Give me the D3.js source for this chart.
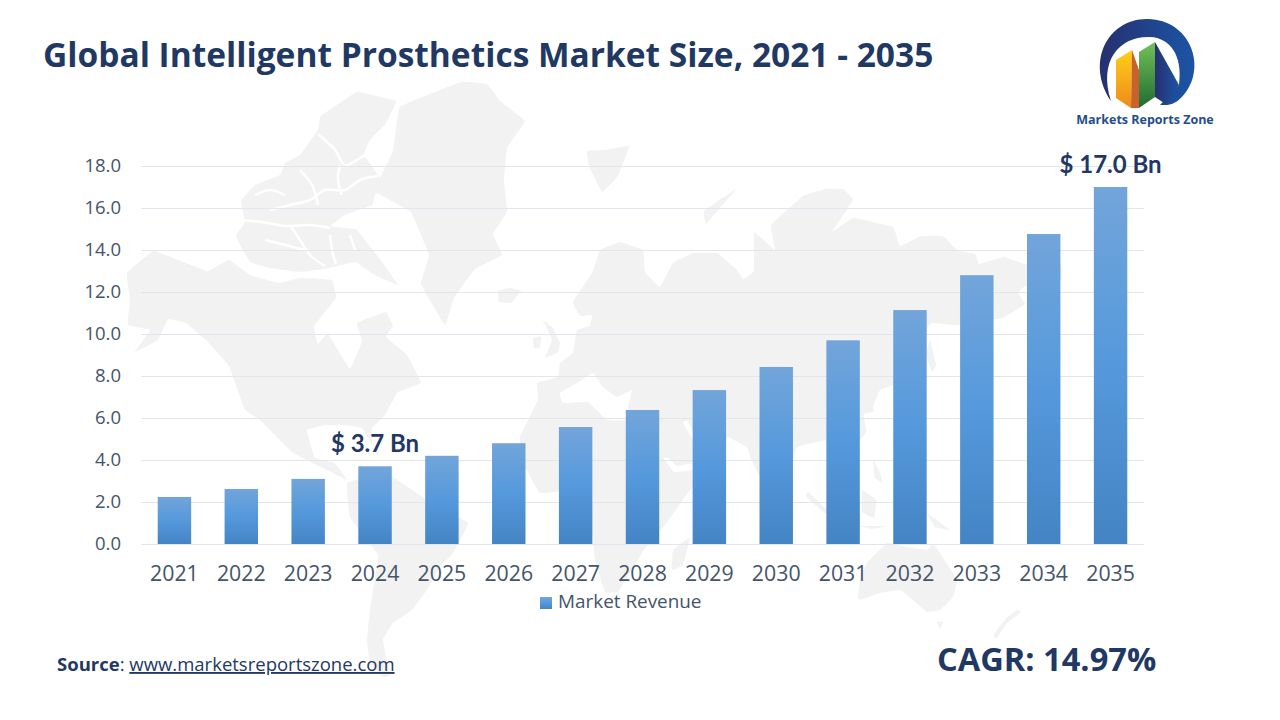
<!DOCTYPE html>
<html>
<head>
<meta charset="utf-8">
<script src="https://cdn.jsdelivr.net/npm/d3@7"></script>
<style>
  html, body { margin: 0; padding: 0; background: #fff; }
  svg { display: block; }
  text { font-family: "Open Sans", sans-serif; }
</style>
</head>
<body>
<svg id="chart" width="1280" height="720"></svg>
<script>
// chart values
var years = ["2021","2022","2023","2024","2025","2026","2027","2028","2029","2030","2031","2032","2033","2034","2035"];
var revenue = [2.24,2.62,3.1,3.7,4.2,4.8,5.57,6.38,7.33,8.43,9.7,11.14,12.8,14.76,17.0];
var yTicks = [0,2,4,6,8,10,12,14,16,18];
var callouts = {"2024": "$ 3.7 Bn", "2035": "$ 17.0 Bn"};

// background world map, page pixels (decoration only)
var land = [
  // north america
  [[127,273],[154,251],[207,271],[229,260],[250,275],[279,283],[300,278],[332,280],[336,298],[314,326],[318,344],[328,334],[350,369],[362,341],[357,323],[386,312],[393,326],[386,337],[407,355],[421,383],[398,392],[385,415],[372,428],[372,445],[362,428],[345,425],[327,425],[307,430],[315,458],[335,463],[347,480],[327,470],[293,453],[260,420],[245,410],[239,394],[229,366],[207,341],[186,323],[168,319],[158,340],[135,352],[150,330],[128,325],[130,300]],
  // south america
  [[347,483],[372,476],[393,477],[427,500],[468,523],[453,553],[440,567],[427,590],[412,610],[393,623],[383,640],[390,675],[383,677],[370,663],[367,640],[370,610],[378,560],[377,553],[350,517]],
  // greenland
  [[400,107],[461,82],[487,84],[500,101],[525,121],[507,148],[504,180],[507,212],[493,234],[502,255],[475,269],[454,298],[445,325],[421,284],[429,255],[411,212],[375,191],[393,151]],
  // arctic islands, cut up below by the channels
  [[241,201],[255,185],[280,175],[285,163],[300,155],[318,130],[321,116],[357,92],[396,101],[386,123],[370,140],[364,155],[385,185],[375,195],[372,205],[345,215],[330,226],[345,228],[357,230],[382,262],[398,285],[375,275],[355,262],[330,268],[300,272],[270,268],[250,262],[240,245],[236,235],[245,222]],
  // iceland, svalbard, britain, ireland
  [[498,291],[510,288],[521,291],[511,303],[499,302]],
  [[587,151],[604,150],[629,146],[618,176],[602,192],[589,166]],
  [[543,320],[553,328],[560,343],[558,352],[545,358],[552,340]],
  [[533,338],[541,336],[540,348],[534,348]],
  // eurasia and africa
  [[537,383],[558,377],[560,363],[573,353],[577,330],[590,326],[592,315],[580,316],[573,302],[592,273],[600,250],[620,242],[643,250],[645,272],[660,287],[673,263],[693,253],[717,253],[737,270],[743,279],[754,271],[754,232],[775,250],[771,225],[803,196],[825,189],[843,189],[853,200],[832,232],[853,218],[893,227],[900,246],[921,236],[943,236],[957,250],[975,254],[979,264],[1004,257],[1025,264],[1060,262],[1062,280],[1040,285],[1025,286],[1018,293],[1025,304],[1002,318],[957,325],[932,323],[927,328],[925,350],[905,375],[893,385],[880,390],[873,407],[876,420],[860,440],[845,445],[827,440],[797,447],[790,470],[775,495],[760,477],[750,457],[747,447],[727,437],[720,470],[705,480],[690,490],[665,525],[645,548],[632,570],[618,592],[605,592],[595,560],[592,530],[590,513],[573,490],[540,493],[523,463],[520,437],[538,400]],
  // novaya zemlya, madagascar, japan
  [[704,211],[736,189],[720,208],[706,224]],
  [[690,537],[683,565],[672,570],[673,550]],
  [[930,340],[936,365],[932,372],[926,355]],
  // indonesia, philippines, new guinea
  [[808,492],[830,513],[825,513],[806,497]],
  [[862,490],[876,500],[874,518],[862,512]],
  [[873,460],[879,470],[883,483],[875,478]],
  [[860,526],[887,526],[872,529]],
  [[927,513],[950,530],[935,527]],
  // australia, tasmania, new zealand
  [[858,597],[860,580],[867,563],[887,543],[907,547],[927,550],[933,543],[940,553],[957,580],[953,597],[940,610],[927,612],[913,600],[900,590],[880,593],[860,600]],
  [[937,622],[943,622],[940,629]],
  [[1017,610],[1021,612],[1007,623],[997,638],[993,636],[1006,618]]
];
var seas = [
  [[560,393],[577,383],[593,373],[603,387],[617,397],[632,390],[628,407],[627,420],[607,420],[588,402],[563,403]],
  [[663,457],[668,458],[677,466],[693,463],[693,470],[674,472]],
  [[683,423],[687,420],[693,431],[693,440]],
  [[864,414],[886,411],[875,460],[868,440]]
];
var channels = [
  [[318,134],[335,150],[345,165],[360,158],[375,150]],
  [[270,210],[290,205],[310,200],[325,190],[345,190],[360,180],[378,176]],
  [[240,220],[262,222],[285,226],[310,225],[330,228]],
  [[290,225],[300,240],[310,255],[325,266]],
  [[300,170],[312,185],[318,205]],
  [[265,240],[285,245],[305,250]],
  [[340,165],[338,180],[342,195]],
  [[330,235],[332,250],[336,264]],
  [[350,235],[355,250]],
  [[255,195],[270,190],[285,195]],
  [[245,262],[270,272],[300,276],[332,272]]
];

var svg = d3.select("#chart");
var defs = svg.append("defs");

var barFill = defs.append("linearGradient").attr("id", "barFill").attr("x1", 0).attr("y1", 0).attr("x2", 0).attr("y2", 1);
barFill.append("stop").attr("offset", "0%").attr("stop-color", "#72a5da");
barFill.append("stop").attr("offset", "50%").attr("stop-color", "#5599dc");
barFill.append("stop").attr("offset", "100%").attr("stop-color", "#4484c4");

var outline = d3.line().curve(d3.curveCardinalClosed.tension(0.8));
svg.append("g").selectAll("path").data(land).join("path")
  .attr("d", outline).attr("fill", "#f2f2f2");
svg.append("g").selectAll("path").data(seas).join("path")
  .attr("d", outline).attr("fill", "#fff");
svg.append("g").selectAll("path").data(channels).join("path")
  .attr("d", d3.line().curve(d3.curveCatmullRom))
  .attr("fill", "none").attr("stroke", "#fff").attr("stroke-width", 2.5);

var x = d3.scaleBand().domain(years).range([141, 1144]).paddingInner(0.5).paddingOuter(0.25);
var y = d3.scaleLinear().domain([0, 18]).range([544, 166]);

// gridlines
svg.append("g").selectAll("line").data(yTicks).join("line")
  .attr("x1", 141).attr("x2", 1144)
  .attr("y1", d => y(d) + 0.5).attr("y2", d => y(d) + 0.5)
  .attr("stroke", "#e0e5ee").attr("stroke-width", 1);

// y axis labels
var yAxis = d3.axisLeft(y).tickValues(yTicks).tickFormat(d3.format(".1f")).tickSize(0).tickPadding(20);
var yG = svg.append("g").attr("transform", "translate(141,0)").call(yAxis);
yG.select(".domain").remove();
yG.selectAll("text").attr("font-size", 18.5).attr("fill", "#44546a").style("font-family", "'Open Sans', sans-serif");

// bars
svg.append("g").selectAll("rect").data(years).join("rect")
  .attr("x", d => x(d))
  .attr("width", x.bandwidth())
  .attr("y", (d, i) => y(revenue[i]))
  .attr("height", (d, i) => y(0) - y(revenue[i]))
  .attr("fill", "url(#barFill)");

// x axis labels
var xAxis = d3.axisBottom(x).tickSize(0).tickPadding(22);
var xG = svg.append("g").attr("transform", "translate(0,544)").call(xAxis);
xG.select(".domain").remove();
xG.selectAll("text").attr("font-size", 21.3).attr("fill", "#44546a").style("font-family", "'Open Sans', sans-serif");

// value callouts
svg.append("g").selectAll("text").data(Object.keys(callouts)).join("text")
  .attr("x", d => x(d) + x.bandwidth() / 2 + (d == "2035" ? 0 : 0))
  .attr("y", d => y(revenue[years.indexOf(d)]) - 14)
  .attr("text-anchor", "middle")
  .attr("font-size", 24).attr("font-weight", 700).attr("fill", "#1f3864")
  .style("font-family", "Lato, sans-serif")
  .text(d => callouts[d]);

// legend
svg.append("rect").attr("x", 540).attr("y", 597).attr("width", 12).attr("height", 12).attr("fill", "url(#barFill)");
svg.append("text").attr("x", 558).attr("y", 608).attr("font-size", 18.9).attr("fill", "#44546a").text("Market Revenue");

// title and footer
svg.append("text").attr("x", 43).attr("y", 67).attr("font-size", 33.5).attr("font-weight", 700).attr("fill", "#1f3864")
  .text("Global Intelligent Prosthetics Market Size, 2021 - 2035");

var source = svg.append("text").attr("x", 57).attr("y", 671).attr("font-size", 18.5).attr("fill", "#1f3864");
source.append("tspan").attr("font-weight", 700).text("Source");
source.append("tspan").text(": ");
source.append("tspan").attr("text-decoration", "underline").text("www.marketsreportszone.com");

svg.append("text").attr("x", 937).attr("y", 671).attr("font-size", 32.6).attr("font-weight", 700).attr("fill", "#1f3864")
  .text("CAGR: 14.97%");

// logo
var ringFill = defs.append("linearGradient").attr("id", "ringFill");
ringFill.append("stop").attr("offset", "0%").attr("stop-color", "#27306f");
ringFill.append("stop").attr("offset", "100%").attr("stop-color", "#1b55a5");
var yellowFill = defs.append("linearGradient").attr("id", "yellowFill").attr("x1", 0).attr("y1", 0).attr("x2", 0).attr("y2", 1);
yellowFill.append("stop").attr("offset", "0%").attr("stop-color", "#fdd017");
yellowFill.append("stop").attr("offset", "100%").attr("stop-color", "#ee8a1d");
var greenFill = defs.append("linearGradient").attr("id", "greenFill").attr("x1", 0).attr("y1", 0).attr("x2", 0).attr("y2", 1);
greenFill.append("stop").attr("offset", "0%").attr("stop-color", "#72c158");
greenFill.append("stop").attr("offset", "100%").attr("stop-color", "#216b33");

var logo = svg.append("g");
logo.append("path").attr("fill", "url(#ringFill)")
  .attr("d", "M1111,101 C1085,62 1108,18 1148,19 C1190,20 1206,65 1186,92 C1180,100 1175,104 1167,105 L1160,105 L1179,85 C1183,55 1170,38 1150,37 C1120,36 1098,60 1111,101 Z");
logo.append("path").attr("fill", "url(#ringFill)")
  .attr("d", "M1155,42 L1179,85 L1167,105 L1155,97 Z");
logo.append("path").attr("fill", "url(#yellowFill)").attr("d", "M1116,60 L1132,50 L1131,108 L1116,98 Z");
logo.append("path").attr("fill", "#c9622a").attr("d", "M1132,50 L1139,70 L1139,108 L1131,108 Z");
logo.append("path").attr("fill", "url(#greenFill)").attr("d", "M1139,52 L1155,42 L1155,97 L1139,108 Z");
logo.append("text").attr("x", 1145).attr("y", 124).attr("text-anchor", "middle")
  .attr("font-size", 12.5).attr("font-weight", 700).attr("fill", "#1f4e8c").text("Markets Reports Zone");
</script>
</body>
</html>
